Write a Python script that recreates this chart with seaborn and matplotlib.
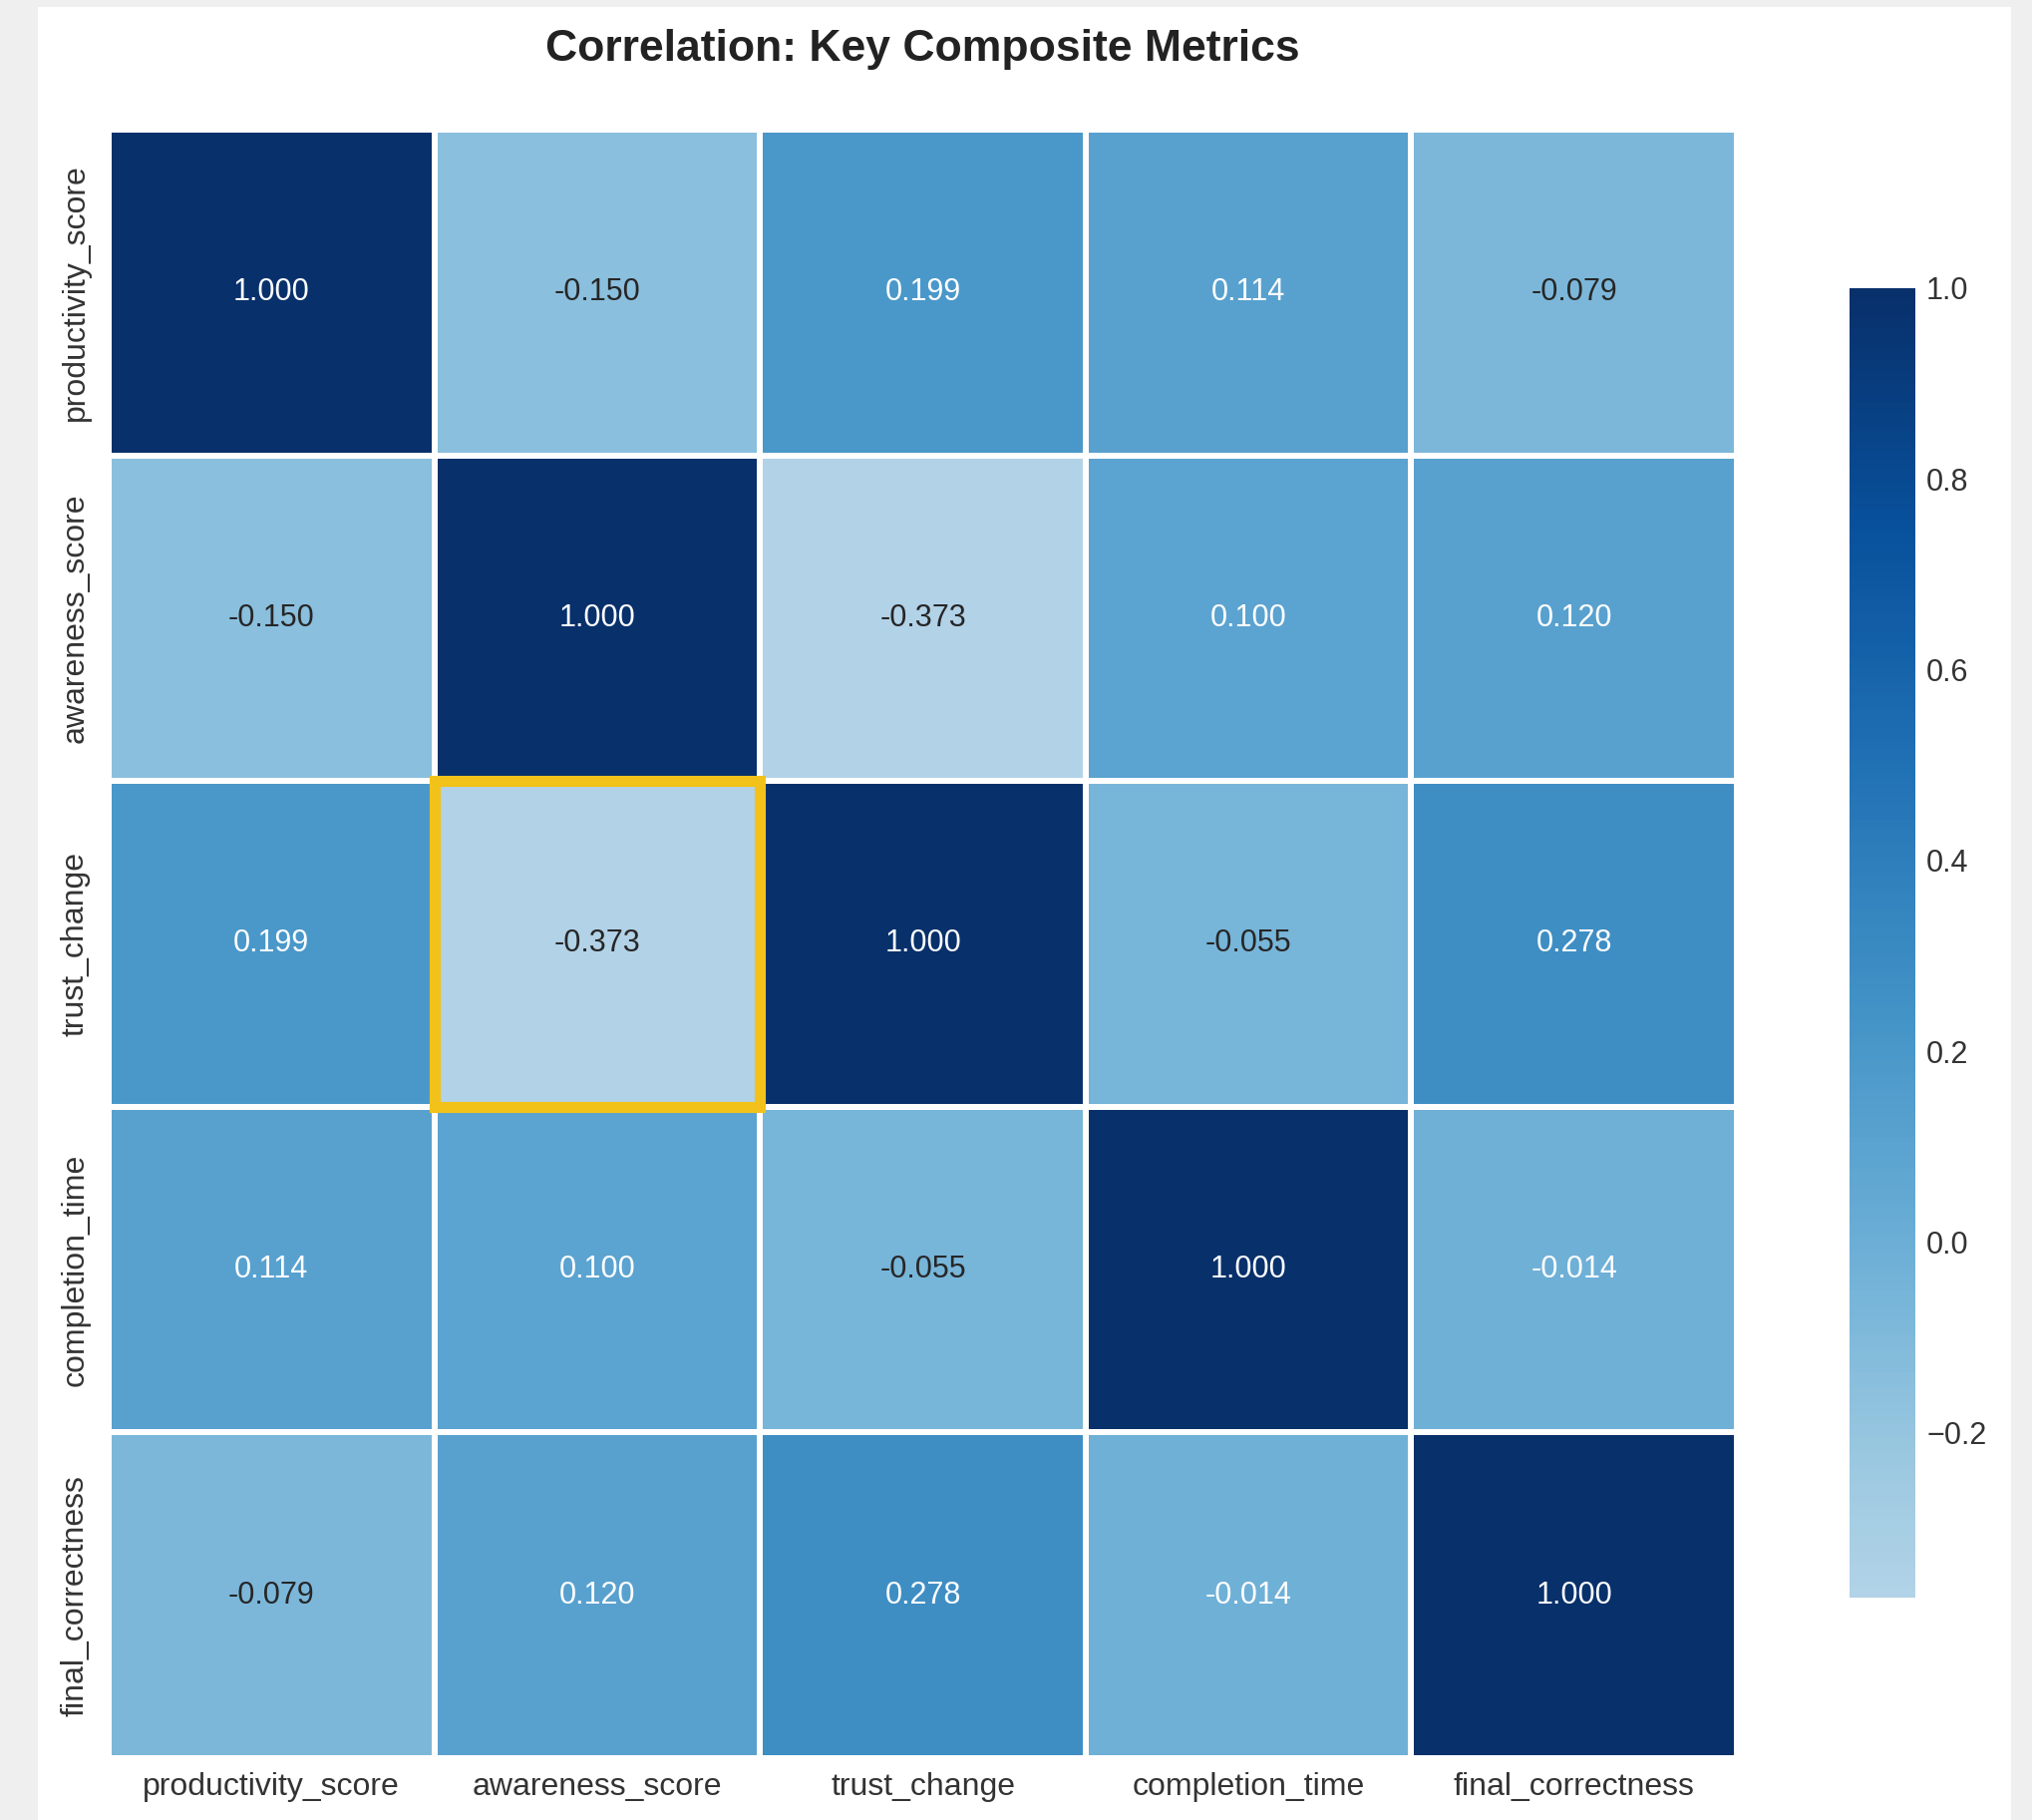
import numpy as np
import pandas as pd
import matplotlib
matplotlib.use("Agg")
import matplotlib.pyplot as plt
from matplotlib.patches import Rectangle
import seaborn as sns

metrics = ["productivity_score", "awareness_score", "trust_change",
           "completion_time", "final_correctness"]
row_productivity = [1.000, -0.150, 0.199, 0.114, -0.079]
row_awareness = [-0.150, 1.000, -0.373, 0.100, 0.120]
row_trust = [0.199, -0.373, 1.000, -0.055, 0.278]
row_completion = [0.114, 0.100, -0.055, 1.000, -0.014]
row_final = [-0.079, 0.120, 0.278, -0.014, 1.000]
highlight_row = "trust_change"
highlight_col = "awareness_score"
title = "Correlation: Key Composite Metrics"

corr = pd.DataFrame([row_productivity, row_awareness, row_trust,
                     row_completion, row_final],
                    index=metrics, columns=metrics)

sns.set_style("whitegrid")
plt.rcParams["font.family"] = ["Liberation Sans", "DejaVu Sans"]

W, H, DPI = 2038, 1825, 100
fig = plt.figure(figsize=(W / DPI, H / DPI), dpi=DPI)
fig.patch.set_facecolor("#efefef")
fig.patches.append(Rectangle((38 / W, 0), (2017 - 38) / W, 1 - 7 / H,
                             transform=fig.transFigure, facecolor="white",
                             edgecolor="none", zorder=-10))

ax = fig.add_axes([109 / W, 1 - 1763 / H, (1742 - 109) / W, (1763 - 130) / H])
cax = fig.add_axes([1855 / W, 1 - 1602 / H, (1921 - 1855) / W, (1602 - 289) / H])

sns.heatmap(corr, ax=ax, cbar_ax=cax, cmap="Blues", center=0,
            annot=True, fmt=".3f", annot_kws={"fontsize": 22},
            linewidths=4, linecolor="white", square=False)

r = metrics.index(highlight_row)
c = metrics.index(highlight_col)
ax.add_patch(Rectangle((c, r), 1, 1, fill=False, edgecolor="#F2C21A",
                       linewidth=8, zorder=5, clip_on=False))

ax.set_title(title, fontsize=32, fontweight="bold", color="#222222", pad=50)
ax.tick_params(axis="x", labelsize=23, pad=10, colors="#333333", length=0)
ax.tick_params(axis="y", labelsize=23, pad=13, colors="#333333", length=0)
for t in ax.get_yticklabels():
    t.set_rotation(90)
    t.set_va("center")
ax.set_xlabel("")
ax.set_ylabel("")

cax.tick_params(labelsize=22, colors="#333333", length=0, pad=8)
cax.set_yticks([-0.2, 0.0, 0.2, 0.4, 0.6, 0.8, 1.0])

fig.savefig("out.png", dpi=DPI, facecolor=fig.get_facecolor())
